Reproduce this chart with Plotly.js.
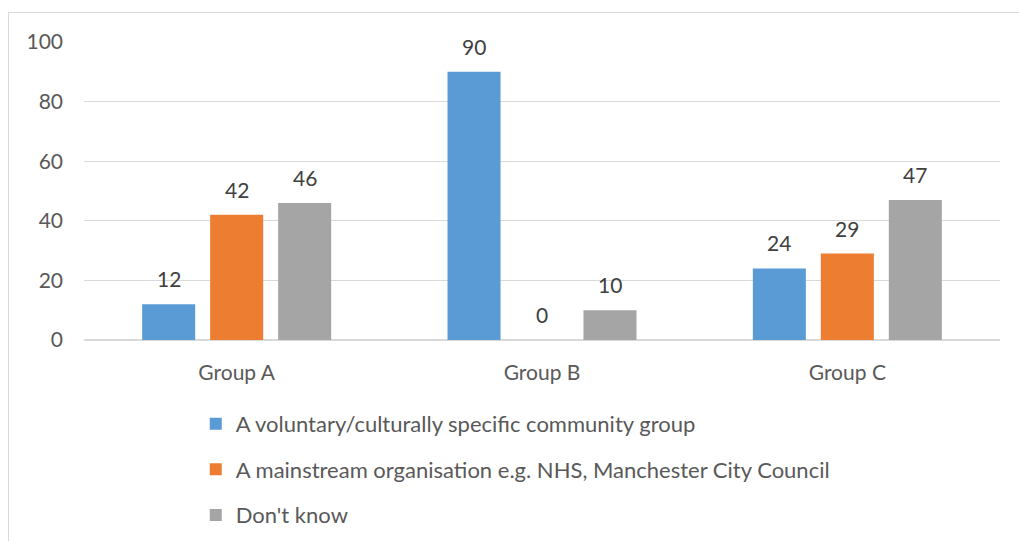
<!DOCTYPE html>
<html><head><meta charset="utf-8">
<script src="https://cdn.plot.ly/plotly-3.0.1.min.js"></script>
<style>
body{margin:0;background:#fff;}
#frame{position:absolute;left:8px;top:12px;width:1100px;height:600px;border:1px solid #d9d9d9;}
#chart{position:absolute;left:0;top:0;width:1019px;height:541px;}
</style></head>
<body>
<div id="frame"></div>
<div id="chart"></div>
<script>
const categories = ["Group A", "Group B", "Group C"];
const seriesNames = [
  "A voluntary/culturally specific community group",
  "A mainstream organisation e.g. NHS, Manchester City Council",
  "Don't know"
];
const voluntary = [12, 90, 24];
const mainstream = [42, 0, 29];
const dontKnow = [46, 10, 47];
const yTicks = [0, 20, 40, 60, 80, 100];

const colors = ["#5B9BD5", "#ED7D31", "#A5A5A5"];
const allSeries = [voluntary, mainstream, dontKnow];
const font = "Lato, 'Liberation Sans', sans-serif";

const traces = allSeries.map((vals, i) => ({
  type: "bar",
  x: categories,
  y: vals,
  name: seriesNames[i],
  legendgroup: "g" + i,
  marker: {color: colors[i]},
  hoverinfo: "none"
}));

const slot = 68;
const annotations = [];
allSeries.forEach((vals, i) => {
  vals.forEach((v, j) => {
    annotations.push({
      x: categories[j], y: v, xref: "x", yref: "y",
      text: String(v), showarrow: false,
      yanchor: "bottom", xanchor: "center",
      xshift: (i - 1) * slot, yshift: 11,
      font: {family: font, size: 21, color: "#404040"}
    });
  });
});

const layout = {
  width: 1019, height: 541,
  margin: {l: 84, r: 19, t: 42, b: 201, autoexpand: false},
  paper_bgcolor: "rgba(0,0,0,0)",
  plot_bgcolor: "rgba(0,0,0,0)",
  barmode: "group",
  bargap: 0.332,
  bargroupgap: 0.22,
  font: {family: font, size: 21, color: "#595959"},
  xaxis: {
    showgrid: false, zeroline: false, showline: false,
    ticks: "", ticklabelstandoff: 18,
    tickfont: {family: font, size: 21, color: "#595959"}
  },
  yaxis: {
    range: [0, 100], tickvals: yTicks,
    showgrid: true, gridcolor: "#d9d9d9", gridwidth: 1.3,
    zeroline: true, zerolinecolor: "#d9d9d9", zerolinewidth: 1.3,
    showline: false, ticks: "", ticklabelstandoff: 20,
    tickfont: {family: font, size: 21, color: "#595959"}
  },
  showlegend: true,
  legend: {
    orientation: "v", traceorder: "grouped", tracegroupgap: 14,
    x: 0.122, xanchor: "left", y: -0.211, yanchor: "top",
    font: {family: font, size: 22, color: "#595959"},
    bgcolor: "rgba(0,0,0,0)"
  },
  annotations: annotations
};

Plotly.newPlot("chart", traces, layout, {displayModeBar: false, staticPlot: true});
</script>
</body></html>
